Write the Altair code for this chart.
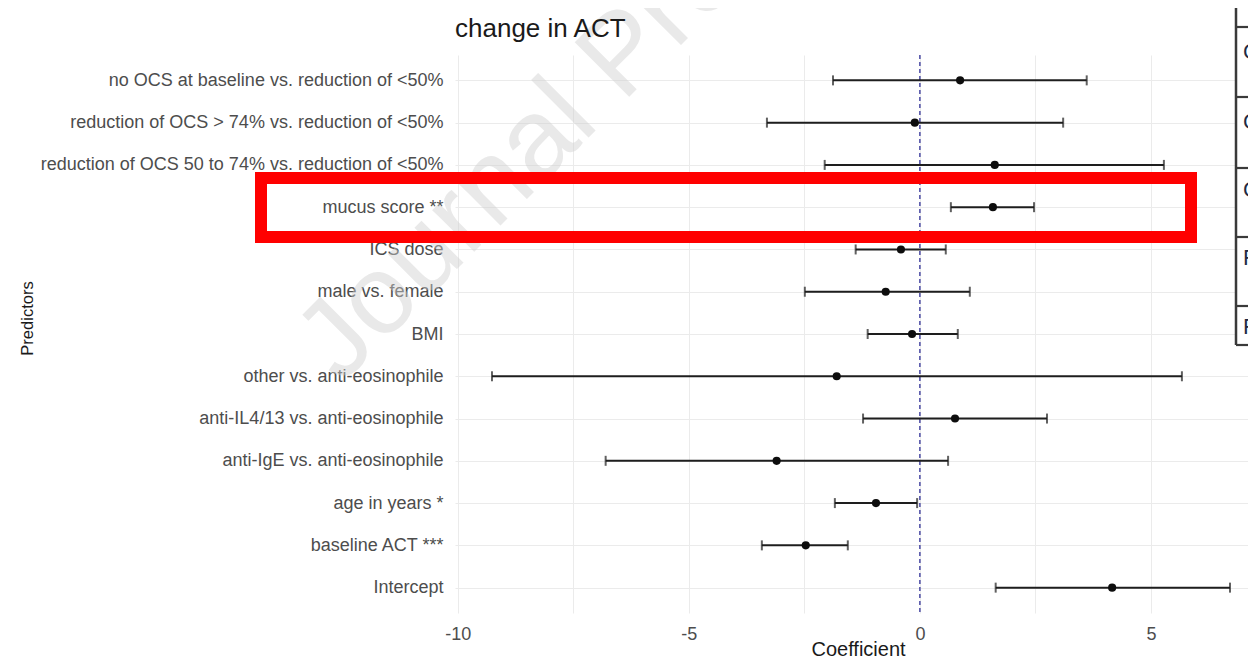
import altair as alt
import pandas as pd

# ---- data ----
predictors = [
    "no OCS at baseline vs. reduction of <50%",
    "reduction of OCS > 74% vs. reduction of <50%",
    "reduction of OCS 50 to 74% vs. reduction of <50%",
    "mucus score **",
    "ICS dose",
    "male vs. female",
    "BMI",
    "other vs. anti-eosinophile",
    "anti-IL4/13 vs. anti-eosinophile",
    "anti-IgE vs. anti-eosinophile",
    "age in years *",
    "baseline ACT ***",
    "Intercept",
]
estimate = [0.87, -0.11, 1.62, 1.58, -0.41, -0.74, -0.17, -1.80, 0.76, -3.10, -0.95, -2.47, 4.16]
lower = [-1.88, -3.31, -2.06, 0.67, -1.39, -2.49, -1.13, -9.26, -1.23, -6.80, -1.84, -3.42, 1.64]
upper = [3.61, 3.10, 5.28, 2.47, 0.56, 1.08, 0.82, 5.67, 2.75, 0.61, -0.06, -1.56, 6.71]

x_ticks = [-10, -7.5, -5, -2.5, 0, 2.5, 5]
title_text = "change in ACT"
watermark_text = "Journal Pre-proof"
table_letters = ["C", "C", "C", "F", "F"]

# ---- layout / style (pixels, relative to plot area) ----
table_letter_y = [-3, 67, 135, 203, 272]
table_line_y = [-28, 42, 113, 182, 251, 290]
PLOT_W, PLOT_H = 793, 558
FONT = "Liberation Sans"

df = pd.DataFrame({"predictor": predictors, "estimate": estimate,
                   "lower": lower, "upper": upper})
one = pd.DataFrame({"zero": [0]})

x_scale = alt.Scale(domain=[-10.06, 7.10], nice=False, zero=False)
x_axis = alt.Axis(values=x_ticks,
                  labelExpr="datum.value % 5 == 0 ? '' + datum.value : ''",
                  labelPadding=12, titleX=403, titleY=42, titleBaseline="alphabetic",
                  titleAlign="center", titleFontSize=20)
y_enc = alt.Y("predictor:N", sort=predictors,
              scale=alt.Scale(type="point", padding=0.6),
              axis=alt.Axis(title="Predictors", labelPadding=12, labelLimit=600,
                            titleX=-423, titleY=263, titleAngle=270,
                            titleBaseline="alphabetic", titleAlign="center",
                            titleFontSize=16.5))

def X(field):
    return alt.X(field, scale=x_scale, axis=x_axis, title="Coefficient")

base = alt.Chart(df)

watermark = alt.Chart(one).mark_text(
    align="left", baseline="alphabetic", angle=315, fontSize=112, font=FONT,
    color="#cfcfcf", opacity=0.45
).encode(x=alt.value(-114), y=alt.value(330), text=alt.value(watermark_text))

zero_line = alt.Chart(one).mark_rule(
    color="#2f2f96", strokeDash=[4, 3], strokeWidth=1.3
).encode(x=X("zero:Q"))

bars = base.mark_rule(color="#1e1e1e", strokeWidth=2).encode(
    x=X("lower:Q"), x2="upper:Q", y=y_enc)
cap_lo = base.mark_tick(color="#1e1e1e", thickness=2, size=10).encode(
    x=X("lower:Q"), y=y_enc)
cap_hi = base.mark_tick(color="#1e1e1e", thickness=2, size=10).encode(
    x=X("upper:Q"), y=y_enc)
points = base.mark_circle(size=66, color="#0d0d0d", opacity=1).encode(
    x=X("estimate:Q"), y=y_enc)

title_mark = alt.Chart(one).mark_text(
    align="left", baseline="alphabetic", fontSize=26, font=FONT, color="#1a1a1a"
).encode(x=alt.value(0), y=alt.value(-18), text=alt.value(title_text))

red_box = alt.Chart(one).mark_rect(
    fillOpacity=0, stroke="#ff0000", strokeWidth=12
).encode(x=alt.value(-194), x2=alt.value(736), y=alt.value(123), y2=alt.value(182))

table_bg = alt.Chart(one).mark_rect(color="white").encode(
    x=alt.value(781), x2=alt.value(PLOT_W), y=alt.value(-47), y2=alt.value(290))
table_vline = alt.Chart(one).mark_rule(color="#3a3a3a", strokeWidth=2.5).encode(
    x=alt.value(781), y=alt.value(-47), y2=alt.value(290))
table_layers = [table_bg, table_vline]
for yy in table_line_y:
    table_layers.append(alt.Chart(one).mark_rule(color="#3a3a3a", strokeWidth=2.2).encode(
        x=alt.value(781), x2=alt.value(PLOT_W), y=alt.value(yy)))
for letter, yy in zip(table_letters, table_letter_y):
    table_layers.append(alt.Chart(one).mark_text(
        align="left", baseline="middle", fontSize=22, font=FONT, color="#1f2a44"
    ).encode(x=alt.value(788), y=alt.value(yy), text=alt.value(letter)))

chart = alt.layer(
    watermark, zero_line, bars, cap_lo, cap_hi, points, title_mark, red_box, *table_layers
).properties(
    width=PLOT_W, height=PLOT_H,
    padding={"left": 447, "top": 47, "right": 0, "bottom": 46},
    autosize=alt.AutoSizeParams(type="none"),
).configure_view(stroke=None).configure_axis(
    domain=False, ticks=False, grid=True, gridColor="#ebebeb", gridWidth=1,
    labelColor="#4d4d4d", labelFont=FONT, labelFontSize=18,
    titleFont=FONT, titleColor="#1a1a1a", titleFontWeight="normal",
)

chart.save("out.html", embed_options={"renderer": "svg", "actions": False})
